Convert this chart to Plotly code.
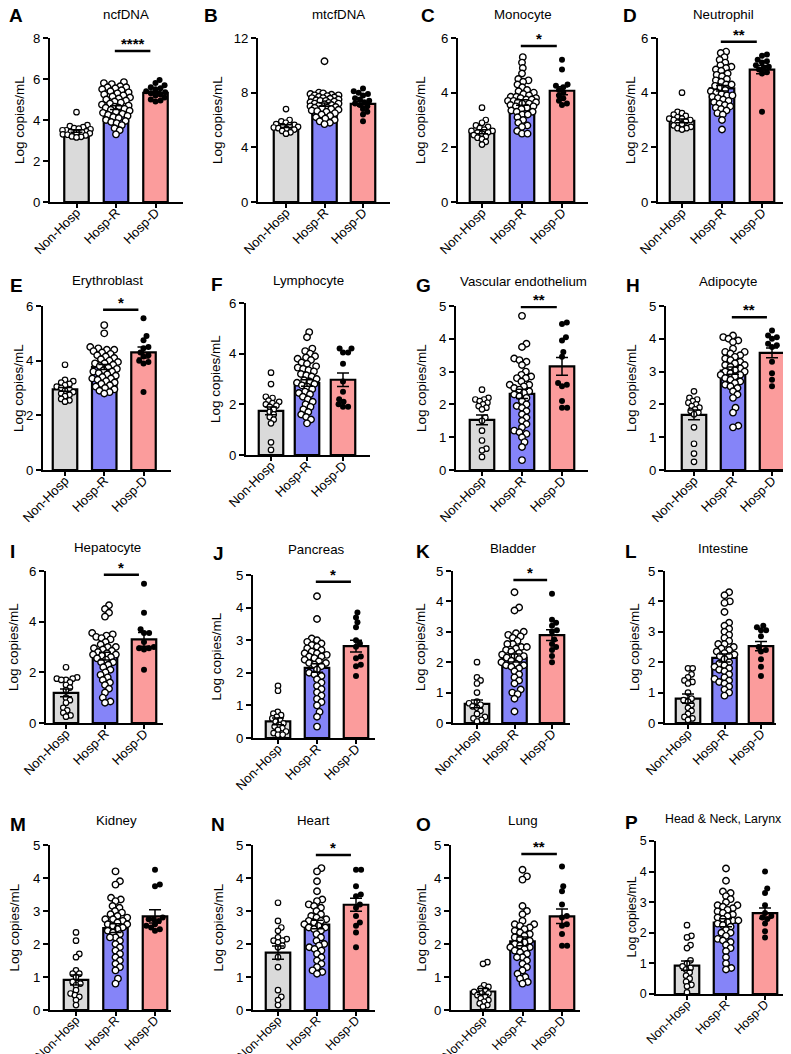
import math
import plotly.graph_objects as go

# ---------------- data ----------------
titles = ["ncfDNA", "mtcfDNA", "Monocyte", "Neutrophil", "Erythroblast", "Lymphocyte",
          "Vascular endothelium", "Adipocyte", "Hepatocyte", "Pancreas", "Bladder", "Intestine",
          "Kidney", "Heart", "Lung", "Head &amp; Neck, Larynx"]
letters = ["A", "B", "C", "D", "E", "F", "G", "H", "I", "J", "K", "L", "M", "N", "O", "P"]
groups = ["Non-Hosp", "Hosp-R", "Hosp-D"]
y_max = [8, 12, 6, 6, 6, 6, 5, 5, 6, 5, 5, 5, 5, 5, 5, 5]
y_dtick = [2, 4, 2, 2, 2, 2, 1, 1, 2, 1, 1, 1, 1, 1, 1, 1]

mean_nonhosp = [3.46, 5.55, 2.57, 2.97, 2.95, 1.74, 1.53, 1.68, 1.19, 0.51, 0.63, 0.80, 0.91, 1.74, 0.56, 0.93]
mean_hospr = [4.60, 7.13, 3.64, 4.16, 3.77, 2.84, 2.32, 3.03, 2.64, 2.15, 2.14, 2.14, 2.48, 2.59, 2.08, 2.33]
mean_hospd = [5.32, 7.18, 4.07, 4.84, 4.30, 2.97, 3.16, 3.57, 3.30, 2.82, 2.89, 2.53, 2.84, 3.19, 2.84, 2.64]
sem_nonhosp = [0.06, 0.10, 0.07, 0.07, 0.07, 0.15, 0.15, 0.15, 0.15, 0.10, 0.13, 0.15, 0.15, 0.20, 0.09, 0.15]
sem_hospr = [0.09, 0.12, 0.10, 0.10, 0.09, 0.13, 0.14, 0.11, 0.15, 0.13, 0.13, 0.13, 0.13, 0.13, 0.13, 0.13]
sem_hospd = [0.08, 0.17, 0.15, 0.15, 0.20, 0.27, 0.27, 0.15, 0.27, 0.18, 0.18, 0.15, 0.20, 0.20, 0.22, 0.17]

sig_label = ["****", "", "*", "**", "*", "", "**", "**", "*", "*", "*", "", "", "*", "**", ""]
sig_y = [7.37, None, 5.71, 5.86, 5.86, None, 4.97, 4.66, 5.85, 4.79, 4.70, None, None, 4.70, 4.73, None]

pts_nonhosp = [
    [4.38, 3.75, 3.7, 3.65, 3.6, 3.58, 3.55, 3.5, 3.5, 3.45, 3.42, 3.4, 3.38, 3.35, 3.3, 3.28, 3.25, 3.2, 3.18, 3.15],
    [6.8, 6.0, 5.9, 5.8, 5.7, 5.65, 5.6, 5.55, 5.5, 5.45, 5.4, 5.35, 5.3, 5.2, 5.1, 5.0],
    [3.45, 3.0, 2.9, 2.8, 2.75, 2.7, 2.65, 2.6, 2.6, 2.55, 2.55, 2.5, 2.45, 2.4, 2.35, 2.3, 2.2, 2.1],
    [4.0, 3.3, 3.25, 3.2, 3.15, 3.1, 3.05, 3.05, 3.0, 3.0, 2.95, 2.9, 2.85, 2.8, 2.75, 2.7, 2.7, 2.65],
    [3.85, 3.3, 3.25, 3.2, 3.15, 3.1, 3.05, 3.0, 2.95, 2.9, 2.85, 2.8, 2.75, 2.7, 2.6, 2.55, 2.5],
    [3.25, 2.8, 2.3, 2.25, 2.15, 2.1, 2.05, 2.0, 1.95, 1.9, 1.8, 1.7, 1.6, 1.5, 1.4, 1.25, 0.5, 0.2],
    [2.45, 2.2, 2.15, 2.15, 2.1, 2.05, 2.0, 1.95, 1.9, 1.85, 1.6, 1.5, 1.2, 0.9, 0.65, 0.6, 0.4],
    [2.4, 2.2, 2.15, 2.1, 2.05, 2.0, 1.95, 1.9, 1.85, 1.8, 1.75, 1.7, 1.3, 0.8, 0.5, 0.25],
    [2.2, 1.8, 1.75, 1.75, 1.7, 1.7, 1.6, 1.5, 1.4, 1.3, 1.0, 0.9, 0.8, 0.6, 0.5, 0.4, 0.3, 0.25],
    [1.6, 1.45, 0.8, 0.75, 0.7, 0.65, 0.6, 0.55, 0.5, 0.45, 0.4, 0.35, 0.3, 0.25, 0.2, 0.15, 0.1, 0.1],
    [2.0, 1.5, 1.4, 1.3, 1.0, 0.7, 0.65, 0.6, 0.55, 0.5, 0.4, 0.3, 0.2, 0.15, 0.1, 0.05],
    [1.8, 1.8, 1.6, 1.5, 1.4, 1.35, 1.3, 1.0, 0.8, 0.75, 0.7, 0.6, 0.5, 0.4, 0.3, 0.2, 0.15, 0.1],
    [2.35, 2.1, 1.7, 1.6, 1.2, 1.1, 1.1, 1.0, 0.85, 0.8, 0.75, 0.6, 0.5, 0.45, 0.4, 0.3, 0.15],
    [3.25, 2.7, 2.5, 2.4, 2.2, 2.15, 2.1, 2.1, 2.05, 1.95, 1.9, 1.6, 1.3, 0.6, 0.4, 0.3, 0.15],
    [1.45, 1.4, 0.75, 0.7, 0.65, 0.6, 0.55, 0.5, 0.5, 0.45, 0.4, 0.35, 0.3, 0.25, 0.2, 0.15, 0.1],
    [2.25, 1.9, 1.85, 1.6, 1.5, 1.1, 1.0, 0.9, 0.85, 0.8, 0.7, 0.6, 0.5, 0.4, 0.3, 0.25, 0.05],
]

pts_hospr = [
    [5.85, 5.8, 5.75, 5.65, 5.6, 5.6, 5.55, 5.5, 5.45, 5.4, 5.35, 5.3, 5.25, 5.2, 5.15, 5.1, 5.05, 5.0, 4.95, 4.9,
     4.85, 4.8, 4.75, 4.7, 4.65, 4.6, 4.6, 4.55, 4.5, 4.45, 4.4, 4.35, 4.3, 4.25, 4.2, 4.15, 4.1, 4.0, 3.95, 3.9,
     3.85, 3.75, 3.6, 3.5, 3.3],
    [10.3, 8.0, 7.95, 7.9, 7.85, 7.8, 7.8, 7.75, 7.7, 7.65, 7.6, 7.6, 7.55, 7.5, 7.45, 7.4, 7.4, 7.35, 7.3, 7.25,
     7.2, 7.2, 7.15, 7.1, 7.05, 7.0, 6.95, 6.9, 6.9, 6.85, 6.8, 6.75, 6.7, 6.65, 6.6, 6.5, 6.4, 6.3, 6.2, 6.1,
     6.0, 5.9, 5.8, 5.7],
    [5.3, 5.1, 4.9, 4.7, 4.5, 4.45, 4.4, 4.3, 4.2, 4.1, 4.05, 4.0, 3.95, 3.9, 3.85, 3.85, 3.8, 3.8, 3.75, 3.75,
     3.7, 3.7, 3.65, 3.65, 3.6, 3.6, 3.55, 3.5, 3.5, 3.45, 3.4, 3.35, 3.3, 3.3, 3.2, 3.2, 3.1, 3.0, 2.9, 2.8,
     2.75, 2.6, 2.5, 2.5],
    [5.5, 5.45, 5.3, 5.2, 5.1, 5.0, 4.95, 4.9, 4.85, 4.8, 4.7, 4.65, 4.6, 4.5, 4.45, 4.4, 4.3, 4.3, 4.25, 4.2,
     4.1, 4.05, 4.0, 3.95, 3.9, 3.9, 3.85, 3.8, 3.75, 3.7, 3.65, 3.6, 3.55, 3.5, 3.45, 3.4, 3.35, 3.25, 3.2, 3.0,
     2.65],
    [5.3, 5.0, 4.5, 4.45, 4.4, 4.4, 4.35, 4.3, 4.25, 4.2, 4.15, 4.1, 4.05, 4.0, 3.95, 3.9, 3.9, 3.85, 3.8, 3.75,
     3.7, 3.65, 3.6, 3.6, 3.55, 3.5, 3.45, 3.4, 3.35, 3.35, 3.3, 3.25, 3.2, 3.15, 3.1, 3.05, 3.0, 2.95, 2.9, 2.85,
     2.8],
    [4.85, 4.65, 4.2, 4.1, 4.0, 3.9, 3.85, 3.8, 3.75, 3.65, 3.6, 3.5, 3.45, 3.4, 3.35, 3.3, 3.2, 3.15, 3.1, 3.0,
     2.95, 2.9, 2.85, 2.8, 2.75, 2.7, 2.6, 2.5, 2.45, 2.4, 2.3, 2.2, 2.1, 2.0, 1.9, 1.8, 1.7, 1.6, 1.5, 1.4,
     1.25],
    [4.7, 3.85, 3.75, 3.4, 3.35, 3.3, 3.2, 3.0, 2.9, 2.85, 2.8, 2.8, 2.7, 2.6, 2.6, 2.55, 2.5, 2.45, 2.4, 2.35,
     2.3, 2.25, 2.2, 2.1, 2.0, 1.95, 1.9, 1.8, 1.7, 1.6, 1.5, 1.4, 1.3, 1.2, 1.15, 1.1, 1.0, 0.85, 0.7, 0.3],
    [4.1, 4.05, 4.0, 3.95, 3.9, 3.7, 3.6, 3.6, 3.55, 3.5, 3.45, 3.4, 3.35, 3.3, 3.25, 3.2, 3.2, 3.15, 3.1, 3.05,
     3.0, 3.0, 2.95, 2.9, 2.9, 2.85, 2.8, 2.75, 2.7, 2.65, 2.6, 2.55, 2.5, 2.4, 2.3, 2.2, 1.9, 1.75, 1.35, 1.3],
    [4.65, 4.5, 4.35, 4.2, 3.55, 3.5, 3.45, 3.4, 3.35, 3.3, 3.2, 3.1, 3.0, 3.0, 2.95, 2.9, 2.85, 2.8, 2.75, 2.7,
     2.7, 2.65, 2.6, 2.55, 2.5, 2.4, 2.4, 2.3, 2.2, 2.1, 2.0, 1.9, 1.8, 1.7, 1.6, 1.5, 1.35, 1.2, 1.0, 0.85,
     0.8],
    [4.35, 3.65, 3.05, 3.0, 2.95, 2.9, 2.85, 2.8, 2.75, 2.7, 2.65, 2.6, 2.6, 2.55, 2.5, 2.5, 2.45, 2.4, 2.35, 2.3,
     2.3, 2.25, 2.2, 2.1, 2.0, 1.95, 1.9, 1.8, 1.7, 1.6, 1.5, 1.4, 1.3, 1.2, 1.1, 1.0, 0.8, 0.65, 0.35],
    [4.3, 3.8, 3.7, 3.0, 2.95, 2.9, 2.85, 2.8, 2.7, 2.6, 2.6, 2.5, 2.5, 2.45, 2.4, 2.35, 2.3, 2.25, 2.2, 2.2,
     2.15, 2.1, 2.05, 2.0, 1.95, 1.9, 1.9, 1.85, 1.8, 1.7, 1.6, 1.5, 1.4, 1.3, 1.1, 1.0, 0.95, 0.8, 0.38],
    [4.3, 4.2, 4.0, 3.95, 3.65, 3.3, 3.2, 3.1, 3.0, 2.9, 2.8, 2.7, 2.6, 2.6, 2.5, 2.45, 2.4, 2.35, 2.3, 2.25,
     2.2, 2.2, 2.1, 2.0, 1.95, 1.9, 1.85, 1.8, 1.75, 1.7, 1.6, 1.5, 1.45, 1.4, 1.35, 1.3, 1.2, 1.1, 1.0, 0.9],
    [4.2, 3.9, 3.8, 3.4, 3.35, 3.3, 3.15, 3.1, 3.0, 2.95, 2.9, 2.85, 2.8, 2.75, 2.75, 2.7, 2.65, 2.6, 2.6, 2.55,
     2.5, 2.45, 2.4, 2.35, 2.3, 2.2, 2.2, 2.1, 2.0, 1.9, 1.8, 1.7, 1.6, 1.5, 1.4, 1.3, 1.2, 0.95, 0.8],
    [4.3, 4.2, 3.9, 3.6, 3.35, 3.3, 3.2, 3.15, 3.1, 3.0, 2.9, 2.85, 2.8, 2.75, 2.7, 2.7, 2.65, 2.6, 2.55, 2.5,
     2.5, 2.45, 2.4, 2.3, 2.2, 2.1, 2.0, 1.95, 1.9, 1.85, 1.8, 1.7, 1.6, 1.5, 1.4, 1.3, 1.2, 1.15, 1.1],
    [4.25, 4.05, 3.95, 3.15, 3.0, 2.9, 2.7, 2.6, 2.6, 2.55, 2.5, 2.45, 2.4, 2.35, 2.3, 2.25, 2.2, 2.15, 2.1, 2.05,
     2.0, 1.95, 1.9, 1.9, 1.85, 1.8, 1.75, 1.7, 1.6, 1.6, 1.5, 1.4, 1.3, 1.2, 1.1, 1.0, 0.95, 0.85, 0.8],
    [4.1, 3.7, 3.35, 3.3, 3.2, 3.1, 3.0, 2.9, 2.9, 2.85, 2.8, 2.75, 2.7, 2.65, 2.6, 2.55, 2.5, 2.45, 2.4, 2.4,
     2.35, 2.3, 2.25, 2.2, 2.1, 2.0, 2.0, 1.9, 1.8, 1.75, 1.7, 1.6, 1.5, 1.4, 1.2, 1.0, 0.85, 0.8],
]

pts_hospd = [
    [5.95, 5.8, 5.7, 5.6, 5.55, 5.5, 5.4, 5.35, 5.3, 5.25, 5.2, 5.1, 5.0, 4.95, 4.9],
    [8.3, 8.1, 8.0, 7.9, 7.8, 7.6, 7.5, 7.4, 7.3, 7.2, 7.1, 7.0, 6.8, 6.6, 6.4, 5.9],
    [5.2, 4.85, 4.3, 4.25, 4.2, 4.1, 4.0, 3.9, 3.8, 3.7, 3.6, 3.55],
    [5.4, 5.35, 5.2, 5.15, 5.1, 5.0, 4.95, 4.9, 4.85, 4.75, 4.7, 3.3],
    [5.55, 4.9, 4.75, 4.5, 4.45, 4.3, 4.2, 4.15, 4.0, 3.95, 3.9, 2.85],
    [4.2, 4.2, 4.05, 4.05, 3.6, 2.9, 2.5, 2.2, 2.1, 2.0, 1.9, 1.9],
    [4.5, 4.45, 4.05, 3.95, 3.6, 3.45, 2.65, 2.6, 2.55, 2.1, 1.9, 1.9],
    [4.25, 4.1, 4.05, 4.0, 3.85, 3.8, 3.75, 3.3, 2.95, 2.75, 2.55],
    [5.5, 4.35, 3.7, 3.55, 3.55, 3.2, 3.0, 2.95, 2.95, 2.9, 2.1],
    [3.85, 3.7, 3.55, 3.4, 3.0, 2.9, 2.8, 2.5, 2.45, 2.25, 2.2, 1.9],
    [4.25, 3.4, 3.3, 3.2, 3.05, 3.0, 2.75, 2.6, 2.5, 2.4, 2.2, 2.0],
    [3.2, 3.15, 3.05, 3.05, 2.85, 2.5, 2.4, 2.35, 2.1, 1.85, 1.55],
    [4.25, 3.8, 3.75, 2.8, 2.75, 2.75, 2.7, 2.6, 2.55, 2.5, 2.45, 2.4],
    [4.25, 4.25, 3.75, 3.5, 3.45, 3.2, 3.1, 2.85, 2.65, 2.55, 2.35, 1.9],
    [4.35, 3.75, 3.6, 3.2, 2.85, 2.8, 2.6, 2.55, 2.3, 1.95, 1.95],
    [4.0, 3.45, 3.3, 2.9, 2.65, 2.55, 2.5, 2.45, 2.3, 2.05, 1.85],
]

# ---------------- layout geometry (pixels) ----------------
W, H = 791, 1054
pan_left = [42, 250, 450, 650, 35, 238, 448, 658, 38, 245, 445, 657, 42, 245, 443, 648]
pan_right = [175, 382, 580, 780, 163, 362, 580, 790, 155, 367, 562, 768, 163, 367, 572, 777]
pan_top = [30, 30, 30, 30, 298, 295, 298, 298, 563, 567, 563, 563, 837, 837, 837, 833]
pan_bottom = [194, 194, 194, 194, 462, 447, 462, 462, 715, 730, 715, 715, 1002, 1002, 1002, 986]
bar_c0 = [68.5, 278, 474, 674, 57, 263, 474, 686, 58, 270, 469, 680, 68, 270, 475, 679]
bar_step = [39.5, 38.5, 40, 40, 39.25, 36, 40, 39, 39, 39, 37.5, 36.5, 39.5, 39, 39.5, 39]
title_x = [118, 330, 515, 715, 100, 300, 515, 720, 99, 308, 505, 715, 108, 305, 515, 715]
title_y = [6, 6, 6, 6, 272, 272, 273, 273, 539, 541, 540, 540, 812, 812, 812, 811]
letter_x = [8, 203, 420, 622, 8, 209, 415, 625, 4, 210, 415, 623, 10, 210, 415, 623]
letter_y = [8, 8, 8, 8, 277, 276, 277, 277, 543, 545, 543, 543, 816, 816, 816, 814]
ytitle_x = [12, 210, 413, 623, 10, 207, 413, 623, 6, 208, 413, 627, 6, 210, 413, 623]
xlabel_size = [13] * 12 + [12.5] * 4

FONT = "Liberation Sans, Arial, sans-serif"
BAR_COLORS = ["#DADADA", "#8584F8", "#FB9C9C"]
BAR_PX = 24.5
DIAM = [5.5, 6.5, 6.0]


def swarm(vals, d, ppu, maxw):
    n = len(vals)
    order = sorted(range(n), key=lambda i: vals[i])
    placed = []
    offs = [0.0] * n
    for i in order:
        y = vals[i] * ppu
        cands = [0.0]
        for (px, py) in placed:
            dy = abs(py - y)
            if dy < d:
                dx = math.sqrt(d * d - dy * dy)
                cands += [px + dx, px - dx]
        cands.sort(key=abs)
        chosen = None
        for c in cands:
            if abs(c) > maxw:
                continue
            if all((c - px) ** 2 + (y - py) ** 2 >= d * d - 1e-6 for px, py in placed):
                chosen = c
                break
        if chosen is None:
            grid = [-maxw + 2 * maxw * j / 20 for j in range(21)]
            near = [(px, py) for px, py in placed if abs(py - y) < d]
            chosen = max(grid, key=lambda c: min((c - px) ** 2 + (y - py) ** 2 for px, py in near))
        placed.append((chosen, y))
        offs[i] = chosen
    return offs


fig = go.Figure()
axes = {}
annotations = []
shapes = []

for k in range(16):
    xa = "x" if k == 0 else f"x{k+1}"
    ya = "y" if k == 0 else f"y{k+1}"
    xname = "xaxis" if k == 0 else f"xaxis{k+1}"
    yname = "yaxis" if k == 0 else f"yaxis{k+1}"
    s = bar_step[k]
    c0 = bar_c0[k]
    xr = [(pan_left[k] - c0) / s, (pan_right[k] - c0) / s]
    ppu = (pan_bottom[k] - pan_top[k]) / y_max[k]
    means = [mean_nonhosp[k], mean_hospr[k], mean_hospd[k]]
    sems = [sem_nonhosp[k], sem_hospr[k], sem_hospd[k]]

    fig.add_trace(go.Bar(
        x=[0, 1, 2], y=means, width=BAR_PX / s,
        marker=dict(color=BAR_COLORS, line=dict(color="black", width=2.2)),
        xaxis=xa, yaxis=ya, showlegend=False, hoverinfo="skip"))

    for g, pts in enumerate([pts_nonhosp[k], pts_hospr[k], pts_hospd[k]]):
        offs = swarm(pts, DIAM[g] * 0.85, ppu, 14)
        xs = [g + o / s for o in offs]
        if g < 2:
            mk = dict(size=DIAM[g], color="white", line=dict(color="black", width=1.4 if g == 1 else 1.2))
        else:
            mk = dict(size=DIAM[g], color="black", line=dict(color="black", width=0))
        fig.add_trace(go.Scatter(x=xs, y=pts, mode="markers", marker=mk, cliponaxis=False,
                                 xaxis=xa, yaxis=ya, showlegend=False, hoverinfo="skip"))

    fig.add_trace(go.Scatter(
        x=[0, 1, 2], y=means, mode="markers",
        marker=dict(size=1, color="rgba(0,0,0,0)"),
        error_y=dict(type="data", array=sems, visible=True, color="black", thickness=1.5, width=6),
        cliponaxis=False, xaxis=xa, yaxis=ya, showlegend=False, hoverinfo="skip"))

    tick_size = 12.5 if k == 15 else 13.2
    axes[xname] = dict(
        domain=[pan_left[k] / W, pan_right[k] / W], range=xr, anchor=ya, automargin=False,
        showline=True, linecolor="black", linewidth=1.8, mirror=False,
        ticks="outside", ticklen=4, tickwidth=1.5, tickcolor="black",
        tickmode="array", tickvals=[0, 1, 2], ticktext=groups, tickangle=-45,
        ticklabelstandoff=-8,
        showgrid=False, zeroline=False, fixedrange=True,
        tickfont=dict(family=FONT, size=xlabel_size[k], color="black"))
    axes[yname] = dict(
        domain=[1 - pan_bottom[k] / H, 1 - pan_top[k] / H], range=[0, y_max[k]], anchor=xa,
        automargin=False,
        showline=True, linecolor="black", linewidth=1.8,
        ticks="outside", ticklen=5, tickwidth=1.5, tickcolor="black",
        tick0=0, dtick=y_dtick[k], showgrid=False, zeroline=False, fixedrange=True,
        tickfont=dict(family=FONT, size=tick_size, color="black"))

    # panel title
    annotations.append(dict(
        text=titles[k], x=title_x[k] / W, y=1 - title_y[k] / H, xref="paper", yref="paper",
        xanchor="center", yanchor="middle", showarrow=False,
        font=dict(family=FONT, size=12.3 if k == 15 else 13.3, color="black")))
    # panel letter
    annotations.append(dict(
        text="<b>" + letters[k] + "</b>", x=letter_x[k] / W, y=1 - letter_y[k] / H,
        xref="paper", yref="paper", xanchor="center", yanchor="middle", showarrow=False,
        font=dict(family=FONT, size=19, color="black")))
    # y axis title
    annotations.append(dict(
        text="Log copies/mL", x=ytitle_x[k] / W,
        y=1 - (pan_top[k] + pan_bottom[k]) / 2 / H, xref="paper", yref="paper",
        xanchor="center", yanchor="middle", textangle=-90, showarrow=False,
        font=dict(family=FONT, size=12.5 if k == 15 else 13.5, color="black")))
    # significance
    if sig_label[k]:
        shapes.append(dict(type="line", xref=xa, yref=ya, x0=0.97, x1=1.87,
                           y0=sig_y[k], y1=sig_y[k], line=dict(color="black", width=2.5)))
        annotations.append(dict(
            text="<b>" + sig_label[k] + "</b>", x=1.42, y=sig_y[k], xref=xa, yref=ya,
            xanchor="center", yanchor="bottom", yshift=-3, showarrow=False,
            font=dict(family=FONT, size=15, color="black")))

fig.update_layout(
    template="none",
    width=W, height=H, autosize=False,
    margin=dict(l=0, r=0, t=0, b=0, pad=0),
    paper_bgcolor="white", plot_bgcolor="white",
    barmode="overlay", showlegend=False,
    annotations=annotations, shapes=shapes,
    font=dict(family=FONT, color="black"),
    **axes)

fig.write_html("out.html")
